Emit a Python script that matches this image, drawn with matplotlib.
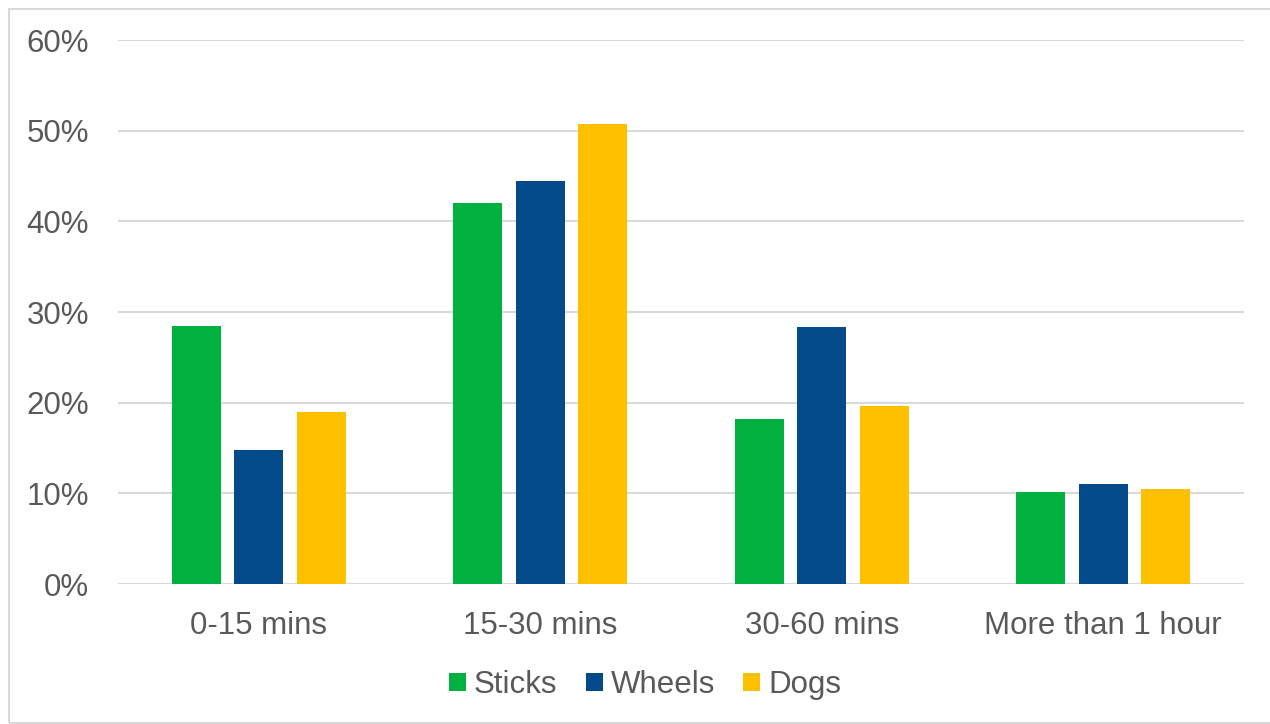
import matplotlib.pyplot as plt
import matplotlib.patches as mpatches
import numpy as np
from matplotlib.ticker import PercentFormatter

categories = ["0-15 mins", "15-30 mins", "30-60 mins", "More than 1 hour"]
sticks = [28.5, 42.0, 18.2, 10.2]
wheels = [14.8, 44.4, 28.3, 11.0]
dogs = [19.0, 50.7, 19.6, 10.5]

series = [("Sticks", sticks, "#00B140"), ("Wheels", wheels, "#034A8A"), ("Dogs", dogs, "#FFC000")]

plt.rcParams["font.family"] = ["Liberation Sans", "DejaVu Sans"]
text_color = "#595959"
fs = 22.5

W, H = 1270, 724
fig = plt.figure(figsize=(W / 100, H / 100), dpi=100)
ax = fig.add_axes([118 / W, 1 - 584 / H, (1244 - 118) / W, (584 - 40) / H])

x = np.arange(len(categories))
width = 0.174
step = 0.222
for i, (name, vals, color) in enumerate(series):
    ax.bar(x + (i - 1) * step, vals, width, color=color, label=name, zorder=3)

ax.set_xlim(-0.5, len(categories) - 0.5)
ax.set_ylim(0, 60)
ax.set_yticks(range(0, 61, 10))
ax.yaxis.set_major_formatter(PercentFormatter(decimals=0))
ax.set_xticks(x)
ax.set_xticklabels(categories)
ax.grid(axis="y", color="#D9D9D9", linewidth=1.5, zorder=0)
for s in ax.spines.values():
    s.set_visible(False)
ax.tick_params(length=0, labelsize=fs, colors=text_color)
ax.tick_params(axis="y", pad=21)
ax.tick_params(axis="x", pad=19.5)

fig.legend(loc="center", bbox_to_anchor=(0.5 + 10 / W, 1 - 685 / H), ncol=3, frameon=False,
           fontsize=fs, labelcolor=text_color, handlelength=0.55, handleheight=0.55,
           handletextpad=0.25, columnspacing=0.9)

# outer chart border (left, top, bottom visible)
fig.patches.append(mpatches.Rectangle((9 / W, 1.5 / H), 1270 / W, 714 / H, transform=fig.transFigure,
                                      fill=False, edgecolor="#D9D9D9", linewidth=1.5))

fig.savefig("out.png", dpi=100)
